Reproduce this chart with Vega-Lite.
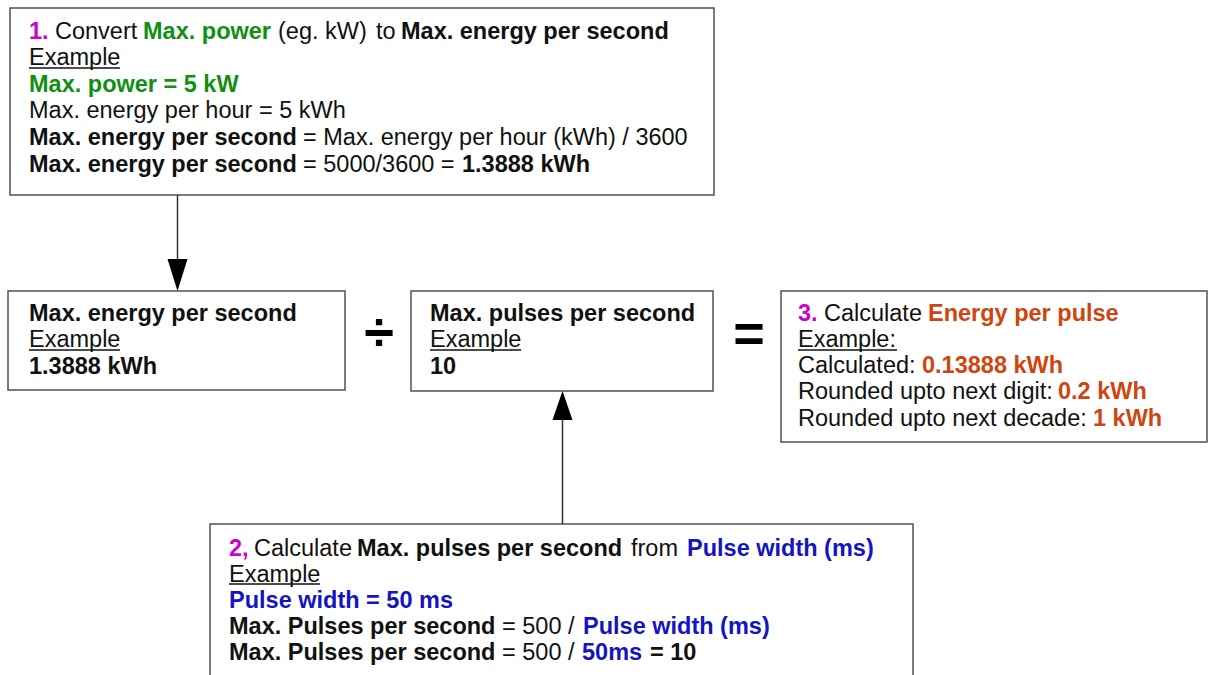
{
  "$schema": "https://vega.github.io/schema/vega-lite/v6.json",
  "width": 1208,
  "height": 675,
  "padding": 0,
  "autosize": "none",
  "background": "white",
  "config": {"view": {"stroke": null}},
  "datasets": {
    "boxes": [
      {"x": 10, "x2": 714, "y": 8, "y2": 195},
      {"x": 8, "x2": 345, "y": 291, "y2": 390},
      {"x": 411, "x2": 713, "y": 291, "y2": 391},
      {"x": 781, "x2": 1207, "y": 291, "y2": 442},
      {"x": 210, "x2": 913, "y": 524, "y2": 700}
    ],
    "segs": [
      {"x": 29, "y": 39, "t": "1.", "c": "m", "w": "b"},
      {"x": 55, "y": 39, "t": "Convert", "c": "k", "w": "n"},
      {"x": 143, "y": 39, "t": "Max. power", "c": "g", "w": "b"},
      {"x": 278, "y": 39, "t": "(eg. kW)", "c": "k", "w": "n"},
      {"x": 376, "y": 39, "t": "to", "c": "k", "w": "n"},
      {"x": 401, "y": 39, "t": "Max. energy per second", "c": "k", "w": "b"},
      {"x": 29, "y": 65, "t": "Example", "c": "k", "w": "n"},
      {"x": 29, "y": 92, "t": "Max. power = 5 kW", "c": "g", "w": "b"},
      {"x": 29, "y": 118, "t": "Max. energy per hour = 5 kWh", "c": "k", "w": "n"},
      {"x": 29, "y": 145, "t": "Max. energy per second", "c": "k", "w": "b"},
      {"x": 303, "y": 145, "t": "= Max. energy per hour (kWh) / 3600", "c": "k", "w": "n"},
      {"x": 29, "y": 172, "t": "Max. energy per second", "c": "k", "w": "b"},
      {"x": 303, "y": 172, "t": "= 5000/3600 =", "c": "k", "w": "n"},
      {"x": 462, "y": 172, "t": "1.3888 kWh", "c": "k", "w": "b"},
      {"x": 29, "y": 321, "t": "Max. energy per second", "c": "k", "w": "b"},
      {"x": 29, "y": 347, "t": "Example", "c": "k", "w": "n"},
      {"x": 29, "y": 374, "t": "1.3888 kWh", "c": "k", "w": "b"},
      {"x": 430, "y": 321, "t": "Max. pulses per second", "c": "k", "w": "b"},
      {"x": 430, "y": 347, "t": "Example", "c": "k", "w": "n"},
      {"x": 430, "y": 374, "t": "10", "c": "k", "w": "b"},
      {"x": 798, "y": 321, "t": "3.", "c": "m", "w": "b"},
      {"x": 824, "y": 321, "t": "Calculate", "c": "k", "w": "n"},
      {"x": 928, "y": 321, "t": "Energy per pulse", "c": "r", "w": "b"},
      {"x": 798, "y": 347, "t": "Example:", "c": "k", "w": "n"},
      {"x": 798, "y": 373, "t": "Calculated:", "c": "k", "w": "n"},
      {"x": 922, "y": 373, "t": "0.13888 kWh", "c": "r", "w": "b"},
      {"x": 798, "y": 399, "t": "Rounded upto next digit:", "c": "k", "w": "n"},
      {"x": 1058, "y": 399, "t": "0.2 kWh", "c": "r", "w": "b"},
      {"x": 798, "y": 426, "t": "Rounded upto next decade:", "c": "k", "w": "n"},
      {"x": 1093, "y": 426, "t": "1 kWh", "c": "r", "w": "b"},
      {"x": 229, "y": 556, "t": "2,", "c": "m", "w": "b"},
      {"x": 254, "y": 556, "t": "Calculate", "c": "k", "w": "n"},
      {"x": 357, "y": 556, "t": "Max. pulses per second", "c": "k", "w": "b"},
      {"x": 631, "y": 556, "t": "from", "c": "k", "w": "n"},
      {"x": 687, "y": 556, "t": "Pulse width (ms)", "c": "u", "w": "b"},
      {"x": 229, "y": 582, "t": "Example", "c": "k", "w": "n"},
      {"x": 229, "y": 608, "t": "Pulse width = 50 ms", "c": "u", "w": "b"},
      {"x": 229, "y": 634, "t": "Max. Pulses per second", "c": "k", "w": "b"},
      {"x": 502, "y": 634, "t": "= 500 /", "c": "k", "w": "n"},
      {"x": 583, "y": 634, "t": "Pulse width (ms)", "c": "u", "w": "b"},
      {"x": 229, "y": 660, "t": "Max. Pulses per second", "c": "k", "w": "b"},
      {"x": 502, "y": 660, "t": "= 500 /", "c": "k", "w": "n"},
      {"x": 582, "y": 660, "t": "50ms", "c": "u", "w": "b"},
      {"x": 650, "y": 660, "t": "= 10", "c": "k", "w": "b"}
    ],
    "unders": [
      {"x": 29, "x2": 120, "y": 68},
      {"x": 29, "x2": 120, "y": 350},
      {"x": 430, "x2": 521, "y": 350},
      {"x": 798, "x2": 897, "y": 350},
      {"x": 229, "x2": 320, "y": 584}
    ],
    "links": [
      {"x": 177.5, "y": 195, "y2": 262},
      {"x": 562.5, "y": 418, "y2": 524}
    ],
    "syms": [
      {"x": 379, "y": 350, "t": "÷"},
      {"x": 749, "y": 352, "t": "="}
    ]
  },
  "layer": [
    {
      "data": {"name": "boxes"},
      "mark": {"type": "rect", "fill": "white", "stroke": "#505050", "strokeWidth": 1.5, "clip": true},
      "encoding": {
        "x": {"field": "x", "type": "quantitative", "scale": {"domain": [0, 1208], "nice": false, "zero": false}, "axis": null},
        "x2": {"field": "x2"},
        "y": {"field": "y", "type": "quantitative", "scale": {"domain": [0, 675], "nice": false, "zero": false, "reverse": true}, "axis": null},
        "y2": {"field": "y2"}
      }
    },
    {
      "data": {"name": "links"},
      "mark": {"type": "rule", "stroke": "#333333", "strokeWidth": 1.5},
      "encoding": {
        "x": {"field": "x", "type": "quantitative", "scale": {"domain": [0, 1208], "nice": false, "zero": false}, "axis": null},
        "y": {"field": "y", "type": "quantitative", "scale": {"domain": [0, 675], "nice": false, "zero": false, "reverse": true}, "axis": null},
        "y2": {"field": "y2"}
      }
    },
    {
      "data": {"values": [{"x": 177.5, "y": 275}]},
      "mark": {"type": "point", "filled": true, "color": "black", "opacity": 1, "shape": "M-0.625,-1L0.625,-1L0,1Z", "size": 1024},
      "encoding": {
        "x": {"field": "x", "type": "quantitative", "scale": {"domain": [0, 1208], "nice": false, "zero": false}, "axis": null},
        "y": {"field": "y", "type": "quantitative", "scale": {"domain": [0, 675], "nice": false, "zero": false, "reverse": true}, "axis": null}
      }
    },
    {
      "data": {"values": [{"x": 562.5, "y": 405.5}]},
      "mark": {"type": "point", "filled": true, "color": "black", "opacity": 1, "shape": "M0,-1L0.69,1L-0.69,1Z", "size": 841},
      "encoding": {
        "x": {"field": "x", "type": "quantitative", "scale": {"domain": [0, 1208], "nice": false, "zero": false}, "axis": null},
        "y": {"field": "y", "type": "quantitative", "scale": {"domain": [0, 675], "nice": false, "zero": false, "reverse": true}, "axis": null}
      }
    },
    {
      "data": {"name": "unders"},
      "mark": {"type": "rule", "stroke": "#111111", "strokeWidth": 1.4},
      "encoding": {
        "x": {"field": "x", "type": "quantitative", "scale": {"domain": [0, 1208], "nice": false, "zero": false}, "axis": null},
        "x2": {"field": "x2"},
        "y": {"field": "y", "type": "quantitative", "scale": {"domain": [0, 675], "nice": false, "zero": false, "reverse": true}, "axis": null}
      }
    },
    {
      "data": {"name": "segs"},
      "transform": [{"filter": "datum.w === 'n'"}],
      "mark": {"type": "text", "align": "left", "baseline": "alphabetic", "font": "Liberation Sans", "fontSize": 23.5, "fontWeight": "normal"},
      "encoding": {
        "x": {"field": "x", "type": "quantitative", "scale": {"domain": [0, 1208], "nice": false, "zero": false}, "axis": null},
        "y": {"field": "y", "type": "quantitative", "scale": {"domain": [0, 675], "nice": false, "zero": false, "reverse": true}, "axis": null},
        "text": {"field": "t"},
        "color": {"field": "c", "type": "nominal", "scale": {"domain": ["k", "m", "g", "u", "r"], "range": ["#111111", "#cc00cc", "#109010", "#1414c0", "#cf4510"]}, "legend": null}
      }
    },
    {
      "data": {"name": "segs"},
      "transform": [{"filter": "datum.w === 'b'"}],
      "mark": {"type": "text", "align": "left", "baseline": "alphabetic", "font": "Liberation Sans", "fontSize": 23.5, "fontWeight": "bold"},
      "encoding": {
        "x": {"field": "x", "type": "quantitative", "scale": {"domain": [0, 1208], "nice": false, "zero": false}, "axis": null},
        "y": {"field": "y", "type": "quantitative", "scale": {"domain": [0, 675], "nice": false, "zero": false, "reverse": true}, "axis": null},
        "text": {"field": "t"},
        "color": {"field": "c", "type": "nominal", "scale": {"domain": ["k", "m", "g", "u", "r"], "range": ["#111111", "#cc00cc", "#109010", "#1414c0", "#cf4510"]}, "legend": null}
      }
    },
    {
      "data": {"name": "syms"},
      "mark": {"type": "text", "align": "center", "baseline": "alphabetic", "font": "Liberation Sans", "fontSize": 54, "fontWeight": "bold", "color": "black"},
      "encoding": {
        "x": {"field": "x", "type": "quantitative", "scale": {"domain": [0, 1208], "nice": false, "zero": false}, "axis": null},
        "y": {"field": "y", "type": "quantitative", "scale": {"domain": [0, 675], "nice": false, "zero": false, "reverse": true}, "axis": null},
        "text": {"field": "t"}
      }
    }
  ]
}
